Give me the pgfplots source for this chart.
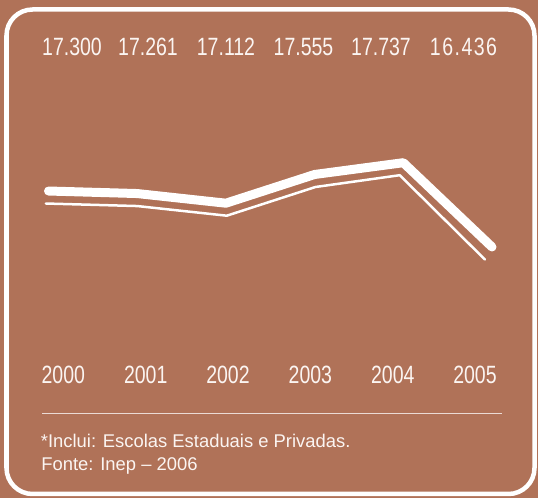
\documentclass[border=0pt]{standalone}
\usepackage{fontspec}
\setmainfont{Liberation Sans}
\newfontfamily\cond[FakeStretch=0.78]{Liberation Sans}
\usepackage{pgfplots}
\pgfplotsset{compat=1.18}
\definecolor{bg}{HTML}{B07258}
\definecolor{txt}{HTML}{FBF5F2}
\begin{document}
\begin{tikzpicture}
\fill[bg] (0,0) rectangle (538bp,498bp);
\begin{axis}[
  at={(0,0)}, anchor=south west,
  width=538bp, height=498bp, scale only axis,
  hide axis,
  xmin=-0.5468, xmax=5.5186,
  ymin=12562.6, ymax=20247.8,
]
% main series (matriculas)
\addplot[white, line width=9bp, line cap=round, line join=round] coordinates {
  (0,17300) (1,17261) (2,17112) (3,17555) (4,17737) (5,16436)
};
% thin shadow line
\addplot[white, line width=2.5bp, line cap=round, line join=round] coordinates {
  (-0.03,17107) (1,17068) (2.01,16919) (3.01,17362) (3.96,17544) (4.92,16243)
};
\end{axis}
\begin{scope}[x=1bp, y=-1bp, shift={(0,498bp)}]
  \draw[white, line width=4.5bp, rounded corners=26bp] (6.5,9.5) rectangle (534.5,494);
  \foreach \xx/\tt in {72/17.300, 148/17.261, 226/17.112, 303.5/17.555, 381/17.737} {
    \node[anchor=base, inner sep=0, text=txt, font=\cond\fontsize{25bp}{25bp}\selectfont] at (\xx,56) {\tt};
  }
  \node[anchor=base, inner sep=0, text=txt, font=\cond\fontsize{25bp}{25bp}\selectfont\addfontfeature{LetterSpace=6}] at (463.5,56) {16.436};
  \foreach \xx/\tt in {63.3/2000, 145.7/2001, 228/2002, 310.4/2003, 392.8/2004, 475/2005} {
    \node[anchor=base, inner sep=0, text=txt, font=\cond\fontsize{25bp}{25bp}\selectfont] at (\xx,383.3) {\tt};
  }
  \draw[white, opacity=0.75, line width=1.2bp] (42,413.5) -- (502,413.5);
  \node[anchor=base west, inner sep=0, text=txt, font=\fontsize{18.4bp}{20bp}\selectfont] at (40.7,447.3) {*Inclui: Escolas Estaduais e Privadas.};
  \node[anchor=base west, inner sep=0, text=txt, font=\fontsize{18.4bp}{20bp}\selectfont] at (41.2,470.7) {Fonte: Inep -- 2006};
\end{scope}
\end{tikzpicture}
\end{document}
